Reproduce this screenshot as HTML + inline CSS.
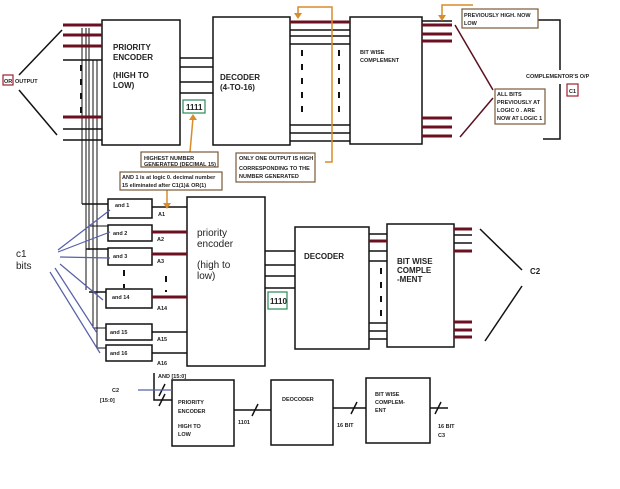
<!DOCTYPE html>
<html><head><meta charset="utf-8"><style>
body{margin:0;background:#fff}
svg{display:block}
text{font-family:"Liberation Sans",sans-serif;font-weight:bold;fill:#222}
</style></head><body>
<svg width="620" height="489" viewBox="0 0 620 489" xmlns="http://www.w3.org/2000/svg">
<g fill="none" stroke="#111" stroke-width="1.5">
<!-- top boxes -->
<rect x="102" y="20" width="78" height="125"/>
<rect x="213" y="17" width="77" height="128"/>
<rect x="350" y="17" width="72" height="127"/>
<!-- input lines -->
<line x1="63" y1="60" x2="102" y2="60"/>
<line x1="63" y1="129" x2="102" y2="129"/>
<line x1="63" y1="140" x2="102" y2="140"/>
<line x1="62" y1="30" x2="19" y2="75"/>
<line x1="19" y1="90" x2="57" y2="135"/>
<!-- PE to decoder -->
<line x1="180" y1="58" x2="213" y2="58"/>
<line x1="180" y1="67" x2="213" y2="67"/>
<line x1="180" y1="82" x2="213" y2="82"/>
<line x1="180" y1="93" x2="213" y2="93"/>
<!-- decoder to BWC -->
<line x1="290" y1="30" x2="350" y2="30"/>
<line x1="290" y1="36" x2="350" y2="36"/>
<line x1="290" y1="44" x2="350" y2="44"/>
<line x1="290" y1="125" x2="350" y2="125"/>
<line x1="290" y1="133" x2="350" y2="133"/>
<line x1="290" y1="141" x2="350" y2="141"/>
<line x1="422" y1="21" x2="452" y2="21"/>
<!-- bracket -->
<polyline points="538,20 560,20 560,70"/>
<polyline points="560,84 560,139 543,139"/>
<!-- middle -->
<rect x="108" y="199" width="44" height="19"/>
<rect x="108" y="225" width="44" height="16"/>
<rect x="108" y="248" width="44" height="17"/>
<rect x="106" y="289" width="46" height="19"/>
<rect x="106" y="324" width="46" height="16"/>
<rect x="106" y="345" width="46" height="16"/>
<rect x="187" y="197" width="78" height="169"/>
<line x1="152" y1="207" x2="187" y2="207"/>
<line x1="152" y1="332" x2="187" y2="332"/>
<line x1="152" y1="353" x2="187" y2="353"/>
<line x1="265" y1="251" x2="295" y2="251"/>
<line x1="265" y1="265" x2="295" y2="265"/>
<line x1="265" y1="276" x2="295" y2="276"/>
<line x1="265" y1="288" x2="295" y2="288"/>
<rect x="295" y="227" width="74" height="122"/>
<rect x="387" y="224" width="67" height="123"/>
<line x1="369" y1="234" x2="387" y2="234"/>
<line x1="369" y1="251" x2="387" y2="251"/>
<line x1="369" y1="261" x2="387" y2="261"/>
<line x1="369" y1="323" x2="387" y2="323"/>
<line x1="369" y1="331" x2="387" y2="331"/>
<line x1="369" y1="339" x2="387" y2="339"/>
<line x1="454" y1="235" x2="472" y2="235"/>
<line x1="454" y1="243" x2="472" y2="243"/>
<line x1="480" y1="229" x2="522" y2="270"/>
<line x1="522" y1="286" x2="485" y2="341"/>
<!-- vertical bus -->
<line x1="82" y1="28" x2="82" y2="204" stroke-width="1"/>
<line x1="86" y1="28" x2="86" y2="290" stroke-width="1"/>
<line x1="89" y1="28" x2="89" y2="250" stroke-width="1"/>
<line x1="93" y1="60" x2="93" y2="328" stroke-width="1"/>
<line x1="97" y1="60" x2="97" y2="348" stroke-width="1"/>
<line x1="82" y1="204" x2="108" y2="204" />
<line x1="89" y1="226" x2="108" y2="226" stroke-width="1"/>
<line x1="86" y1="249" x2="108" y2="249"/>
<line x1="89" y1="292" x2="106" y2="292"/>
<line x1="93" y1="328" x2="106" y2="328" stroke-width="1"/>
<line x1="97" y1="348" x2="106" y2="348" stroke-width="1"/>
<!-- bottom -->
<rect x="172" y="380" width="62" height="66"/>
<rect x="271" y="380" width="62" height="65"/>
<rect x="366" y="378" width="64" height="65"/>
<line x1="234" y1="410" x2="271" y2="410"/>
<line x1="333" y1="408" x2="366" y2="408"/>
<line x1="430" y1="408" x2="448" y2="408"/>
<line x1="252" y1="416" x2="258" y2="404"/>
<line x1="351" y1="414" x2="357" y2="402"/>
<line x1="435" y1="414" x2="441" y2="402"/>
<polyline points="154,373 154,400 172,400"/>
<line x1="159" y1="396" x2="165" y2="384"/>
<line x1="159" y1="406" x2="165" y2="394"/>
</g>
<!-- dashed lines -->
<g stroke="#111" stroke-width="2" stroke-dasharray="6,8" fill="none">
<line x1="81" y1="65" x2="81" y2="115"/>
<line x1="302" y1="50" x2="302" y2="117"/>
<line x1="339" y1="50" x2="339" y2="112"/>
<line x1="124" y1="270" x2="124" y2="288"/>
<line x1="166" y1="276" x2="166" y2="292"/>
<line x1="381" y1="268" x2="381" y2="318"/>
</g>
<!-- red lines -->
<g stroke="#6b1020" stroke-width="3">
<line x1="63" y1="25" x2="102" y2="25"/>
<line x1="63" y1="35" x2="102" y2="35"/>
<line x1="63" y1="46" x2="102" y2="46"/>
<line x1="63" y1="117" x2="102" y2="117"/>
<line x1="290" y1="22" x2="350" y2="22"/>
<line x1="422" y1="25" x2="452" y2="25"/>
<line x1="422" y1="34" x2="452" y2="34"/>
<line x1="422" y1="41" x2="452" y2="41"/>
<line x1="422" y1="118" x2="452" y2="118"/>
<line x1="422" y1="127" x2="452" y2="127"/>
<line x1="422" y1="136" x2="452" y2="136"/>
<line x1="152" y1="232" x2="187" y2="232"/>
<line x1="152" y1="254" x2="187" y2="254"/>
<line x1="152" y1="297" x2="187" y2="297"/>
<line x1="369" y1="241" x2="387" y2="241"/>
<line x1="454" y1="229" x2="472" y2="229"/>
<line x1="454" y1="251" x2="472" y2="251"/>
<line x1="454" y1="322" x2="472" y2="322"/>
<line x1="454" y1="330" x2="472" y2="330"/>
<line x1="454" y1="337" x2="472" y2="337"/>
</g>
<g stroke="#5a1020" stroke-width="1.5">
<line x1="455" y1="25" x2="493" y2="90"/>
<line x1="460" y1="137" x2="493" y2="98"/>
</g>
<!-- blue lines -->
<g stroke="#5560a8" stroke-width="1.2">
<line x1="58" y1="250" x2="110" y2="210"/>
<line x1="58" y1="252" x2="110" y2="232"/>
<line x1="60" y1="257" x2="110" y2="258"/>
<line x1="60" y1="264" x2="103" y2="300"/>
<line x1="55" y1="268" x2="97" y2="333"/>
<line x1="50" y1="272" x2="100" y2="353"/>
<line x1="138" y1="390" x2="172" y2="390"/>
</g>
<!-- orange -->
<g stroke="#d98c2a" stroke-width="1.5" fill="none">
<polyline points="325,162 332,162 332,7 298,7 298,15"/>
<polyline points="473,5 442,5 442,17"/>
<line x1="190" y1="152" x2="193" y2="118"/>
<line x1="167" y1="190" x2="167" y2="205"/>
</g>
<g fill="#d98c2a">
<polygon points="294,13 302,13 298,19"/>
<polygon points="438,15 446,15 442,21"/>
<polygon points="189,120 197,120 193,114"/>
<polygon points="163,203 171,203 167,209"/>
</g>
<!-- label boxes -->
<g fill="none" stroke-width="1.2">
<rect x="3" y="75" width="10" height="10" stroke="#a02030"/>
<rect x="567" y="84" width="11" height="12" stroke="#a02030"/>
<rect x="183" y="100" width="22" height="13" stroke="#2a8a5a"/>
<rect x="268" y="292" width="19" height="17" stroke="#2a8a5a"/>
<rect x="141" y="152" width="77" height="15" stroke="#7a5a3a"/>
<rect x="120" y="172" width="102" height="18" stroke="#7a5a3a"/>
<rect x="236" y="153" width="79" height="29" stroke="#7a5a3a"/>
<rect x="462" y="9" width="76" height="19" stroke="#7a5a3a"/>
<rect x="495" y="89" width="50" height="35" stroke="#7a5a3a"/>
</g>
<g font-size="5.5">
<text x="4" y="83">OR</text><text x="15" y="83">OUTPUT</text>
<text x="144" y="160">HIGHEST NUMBER</text><text x="144" y="166">GENERATED (DECIMAL 15)</text>
<text x="122" y="179">AND 1 is at logic 0. decimal number</text><text x="122" y="187">15 eliminated after C1(1)&amp; OR(1)</text>
<text x="239" y="160">ONLY ONE OUTPUT IS HIGH</text><text x="239" y="170">CORRESPONDING TO THE</text><text x="239" y="178">NUMBER GENERATED</text>
<text x="464" y="17">PREVIOUSLY HIGH. NOW</text><text x="464" y="25">LOW</text>
<text x="497" y="96">ALL BITS</text><text x="497" y="104">PREVIOUSLY AT</text><text x="497" y="112">LOGIC 0 . ARE</text><text x="497" y="120">NOW AT LOGIC 1</text>
<text x="526" y="78">COMPLEMENTOR'S O/P</text>
<text x="569" y="93">C1</text>
<text x="360" y="54">BIT WISE</text><text x="360" y="62">COMPLEMENT</text>
<text x="115" y="207" font-weight="normal">and 1</text>
<text x="113" y="235" font-weight="normal">and 2</text>
<text x="113" y="258" font-weight="normal">and 3</text>
<text x="112" y="299" font-weight="normal">and 14</text>
<text x="110" y="334" font-weight="normal">and 15</text>
<text x="110" y="355" font-weight="normal">and 16</text>
<text x="158" y="216">A1</text><text x="157" y="241">A2</text><text x="157" y="263">A3</text>
<text x="157" y="310">A14</text><text x="157" y="341">A15</text><text x="157" y="365">A16</text>
<text x="158" y="378">AND [15:0]</text>
<text x="112" y="392">C2</text><text x="100" y="402">[15:0]</text>
<text x="178" y="404">PRIORITY</text><text x="178" y="413">ENCODER</text><text x="178" y="428">HIGH TO</text><text x="178" y="436">LOW</text>
<text x="282" y="401">DEOCODER</text>
<text x="375" y="396">BIT WISE</text><text x="375" y="404">COMPLEM-</text><text x="375" y="412">ENT</text>
<text x="238" y="424">1101</text>
<text x="337" y="427">16 BIT</text>
<text x="438" y="428">16 BIT</text><text x="438" y="437">C3</text>
</g>
<g font-size="8">
<text x="113" y="50">PRIORITY</text><text x="113" y="60">ENCODER</text>
<text x="113" y="78">(HIGH TO</text><text x="113" y="88">LOW)</text>
<text x="220" y="80">DECODER</text><text x="220" y="90">(4-TO-16)</text>
<text x="186" y="110" fill="#222">1111</text>
<text x="270" y="304" font-weight="normal">1110</text>
<text x="304" y="259">DECODER</text>
<text x="397" y="264">BIT WISE</text><text x="397" y="273">COMPLE</text><text x="397" y="282">-MENT</text>
<text x="530" y="274">C2</text>
</g>
<g font-size="10" font-weight="normal">
<text x="197" y="236" style="font-weight:normal">priority</text><text x="197" y="247" style="font-weight:normal">encoder</text>
<text x="197" y="268" style="font-weight:normal">(high to</text><text x="197" y="279" style="font-weight:normal">low)</text>
<text x="16" y="257" style="font-weight:normal">c1</text><text x="16" y="269" style="font-weight:normal">bits</text>
</g>
</svg>
</body></html>
